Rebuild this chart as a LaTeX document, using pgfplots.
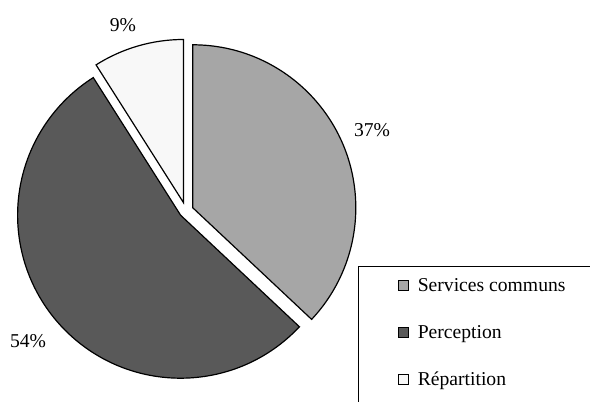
\documentclass[border=0pt]{standalone}
\usepackage{fontspec}
\setmainfont{Liberation Serif}
\usepackage{pgfplots}
\pgfplotsset{compat=1.18}
\definecolor{cserv}{RGB}{166,166,166}
\definecolor{cperc}{RGB}{89,89,89}
\definecolor{crep}{RGB}{248,248,248}

% parts in percent
\def\vServ{37}
\def\vPerc{54}
\def\vRep{9}

\newcommand\lblfont{\fontsize{19.7}{23}\selectfont}

\begin{document}
\begin{tikzpicture}
% slice angles, clockwise from 12 o'clock
\pgfmathsetmacro{\aA}{90}
\pgfmathsetmacro{\aB}{\aA-3.6*\vServ}
\pgfmathsetmacro{\aC}{\aB-3.6*\vPerc}
\pgfmathsetmacro{\aD}{\aC-3.6*\vRep}
% exploded centres (axis units = bp)
\def\R{163bp}
\def\gx{192.8}\def\gy{194.2}
\def\px{180.6}\def\py{186.8}
\def\rx{183.4}\def\ry{199.5}
\begin{axis}[
  scale only axis, width=590bp, height=402bp,
  xmin=0, xmax=590, ymin=0, ymax=402,
  hide axis, clip=false,
  legend image code/.code={\draw[#1, line width=0.8bp] (0bp,-5bp) rectangle (10bp,5bp);
    \path (17bp,0bp);},
  legend style={at={(axis cs:398,126)}, anchor=north west, draw=none, fill=none,
    font=\lblfont, row sep=28.5bp, legend cell align=left, inner sep=0pt},
]
\addlegendimage{fill=cserv, draw=black}
\addlegendentry{Services communs}
\addlegendimage{fill=cperc, draw=black}
\addlegendentry{Perception}
\addlegendimage{fill=crep, draw=black}
\addlegendentry{Répartition}

\fill[cserv, draw=black, line width=1.2bp] (axis cs:\gx,\gy) -- ++(\aA:\R)
  arc[start angle=\aA, end angle=\aB, radius=\R] -- cycle;
\fill[cperc, draw=black, line width=1.2bp] (axis cs:\px,\py) -- ++(\aB:\R)
  arc[start angle=\aB, end angle=\aC, radius=\R] -- cycle;
\fill[crep, draw=black, line width=1.2bp] (axis cs:\rx,\ry) -- ++(\aC:\R)
  arc[start angle=\aC, end angle=\aD, radius=\R] -- cycle;

\node[font=\lblfont] at (axis cs:123,377) {9\%};
\node[font=\lblfont] at (axis cs:372,272) {37\%};
\node[font=\lblfont] at (axis cs:28,61) {54\%};

\draw[line width=0.8bp] (axis cs:358,136) rectangle (axis cs:650,-60);
\end{axis}
\pgfresetboundingbox
\path[use as bounding box] (0,0) rectangle (590bp,402bp);
\end{tikzpicture}
\end{document}
